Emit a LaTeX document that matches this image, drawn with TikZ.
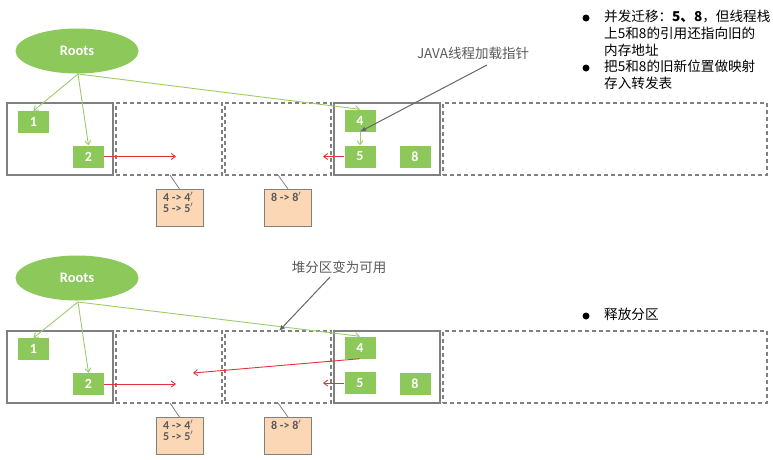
\documentclass[tikz,border=0pt]{standalone}
\usepackage{fontspec}
\setmainfont{Carlito}
\newfontfamily\cjk{Noto Sans CJK SC}
\usetikzlibrary{arrows.meta,shapes.geometric}
\definecolor{gr}{HTML}{8DC95A}
\definecolor{grline}{HTML}{9CCB6B}
\definecolor{bx}{HTML}{808080}
\definecolor{rd}{HTML}{E0323A}
\definecolor{peach}{HTML}{FCD7B6}
\definecolor{txtg}{HTML}{595959}
\tikzset{
  rootnode/.style={ellipse, fill=gr, minimum width=123pt, minimum height=45pt, inner sep=0pt, text=white, font=\bfseries\fontsize{14.5}{16}\selectfont},
  obj/.style={fill=gr, minimum width=31pt, minimum height=22pt, inner sep=0pt, text=white, font=\bfseries\fontsize{14}{15}\selectfont},
  region/.style={draw=bx, line width=1.2pt, minimum width=106pt, minimum height=72pt, inner sep=0pt},
  freeregion/.style={region, dash pattern=on 4pt off 3pt},
  ref/.style={draw=grline, line width=0.9pt, -{Straight Barb[length=4pt,width=6pt]}},
  move/.style={draw=rd, line width=0.9pt, -{Straight Barb[length=4pt,width=6pt]}},
  note/.style={draw=black!60, line width=1pt, -{Latex[length=6pt,width=5pt]}},
  fwd/.style={draw=bx, fill=peach, minimum width=47pt, minimum height=37pt, inner sep=0pt},
  fwdtext/.style={anchor=north west, inner sep=0pt, font=\bfseries\fontsize{12}{11}\selectfont, text=txtg, align=left},
  link/.style={draw=bx, line width=0.8pt},
  label/.style={font=\cjk\fontsize{13.5}{15}\selectfont, text=txtg},
  bullet/.style={font=\cjk\fontsize{13.6}{17}\selectfont, align=left, anchor=north west, inner sep=0pt, text width=168pt},
  dot/.style={circle, fill=black, minimum size=7pt, inner sep=0pt}
}
\begin{document}
\begin{tikzpicture}[x=1pt,y=-1pt]
\useasboundingbox (0,0) rectangle (773,459);
% ===== top panel =====
\node[rootnode] (rootsA) at (77,51) {Roots};
\node[region] (rA1) at (60,139) {};
\node[freeregion] (rA2) at (169,139) {};
\node[freeregion] (rA3) at (278,139) {};
\node[region] (rA4) at (387,139) {};
\node[freeregion, minimum width=324pt] (rA5) at (605,139) {};
\node[obj] (a1) at (33.5,122) {1};
\node[obj] (a2) at (88.5,156.5) {2};
\node[obj] (a4) at (360,120.5) {4};
\node[obj] (a5) at (360,156.5) {5};
\node[obj] (a8) at (415,156.5) {8};
\coordinate (tA2) at (176,156.5);
\coordinate (tA3) at (323,156.5);
\draw[move] (a2.east) -- (tA2);
\draw[move] (a5.west) -- (tA3);
\coordinate (oA) at (78,74);
\draw[ref] (oA) -- (a1.north);
\draw[ref] (oA) -- (a2.north);
\draw[ref] (oA) -- (a4.north);
\draw[ref] (a4.south) -- (a5.north);
\node[fwd, anchor=north] (fA1) at (179.5,189) {};
\node[fwdtext] (fA1t) at (163,192) {4 -> 4$'$\\5 -> 5$'$};
\node[fwd, anchor=north] (fA2) at (288,189) {};
\node[fwdtext] (fA2t) at (271,192) {8 -> 8$'$};
\coordinate (lA1) at (170,175);
\coordinate (lA2) at (278,175);
\draw[link] (fA1.north) -- (lA1);
\draw[link] (fA2.north) -- (lA2);
\node[label] (javaA) at (473,53) {JAVA线程加载指针};
\draw[note] (487,65) -- (a4.south);
% bullets
\node[dot] (d1) at (586,18) {};
\node[bullet] (b1) at (604,10) {并发迁移：\textbf{5、8}，但线程栈\\上5和8的引用还指向旧的\\内存地址};
\node[dot] (d2) at (586,68) {};
\node[bullet] (b2) at (604,60) {把5和8的旧新位置做映射\\存入转发表};
% ===== bottom panel =====
\node[rootnode] (rootsB) at (77,278) {Roots};
\node[region] (rB1) at (60,367) {};
\node[freeregion] (rB2) at (169,367) {};
\node[freeregion] (rB3) at (278,367) {};
\node[region] (rB4) at (387,367) {};
\node[freeregion, minimum width=324pt] (rB5) at (605,367) {};
\node[obj] (b1o) at (33.5,349) {1};
\node[obj] (b2o) at (88.5,384) {2};
\node[obj] (b4o) at (360,347.5) {4};
\node[obj] (b5o) at (360,383) {5};
\node[obj] (b8o) at (415,384) {8};
\coordinate (tB2) at (176,384);
\coordinate (tB3) at (323,383);
\coordinate (tB4) at (193,373);
\draw[move] (b2o.east) -- (tB2);
\draw[move] (b5o.west) -- (tB3);
\draw[move] (b4o.south) -- (tB4);
\coordinate (oB) at (78,302);
\draw[ref] (oB) -- (b1o.north);
\draw[ref] (oB) -- (b2o.north);
\draw[ref] (oB) -- (b4o.north);
\node[fwd, anchor=north] (fB1) at (179.5,417) {};
\node[fwdtext] (fB1t) at (163,420) {4 -> 4$'$\\5 -> 5$'$};
\node[fwd, anchor=north] (fB2) at (288,417) {};
\node[fwdtext] (fB2t) at (271,420) {8 -> 8$'$};
\coordinate (lB1) at (170,403);
\coordinate (lB2) at (278,403);
\draw[link] (fB1.north) -- (lB1);
\draw[link] (fB2.north) -- (lB2);
\node[label] (heapB) at (339,267) {堆分区变为可用};
\coordinate (hB) at (279,331);
\draw[note] (330,277) -- (hB);
\node[dot] (d3) at (586,316) {};
\node[bullet] (b3) at (604,308) {释放分区};
\end{tikzpicture}
\end{document}
